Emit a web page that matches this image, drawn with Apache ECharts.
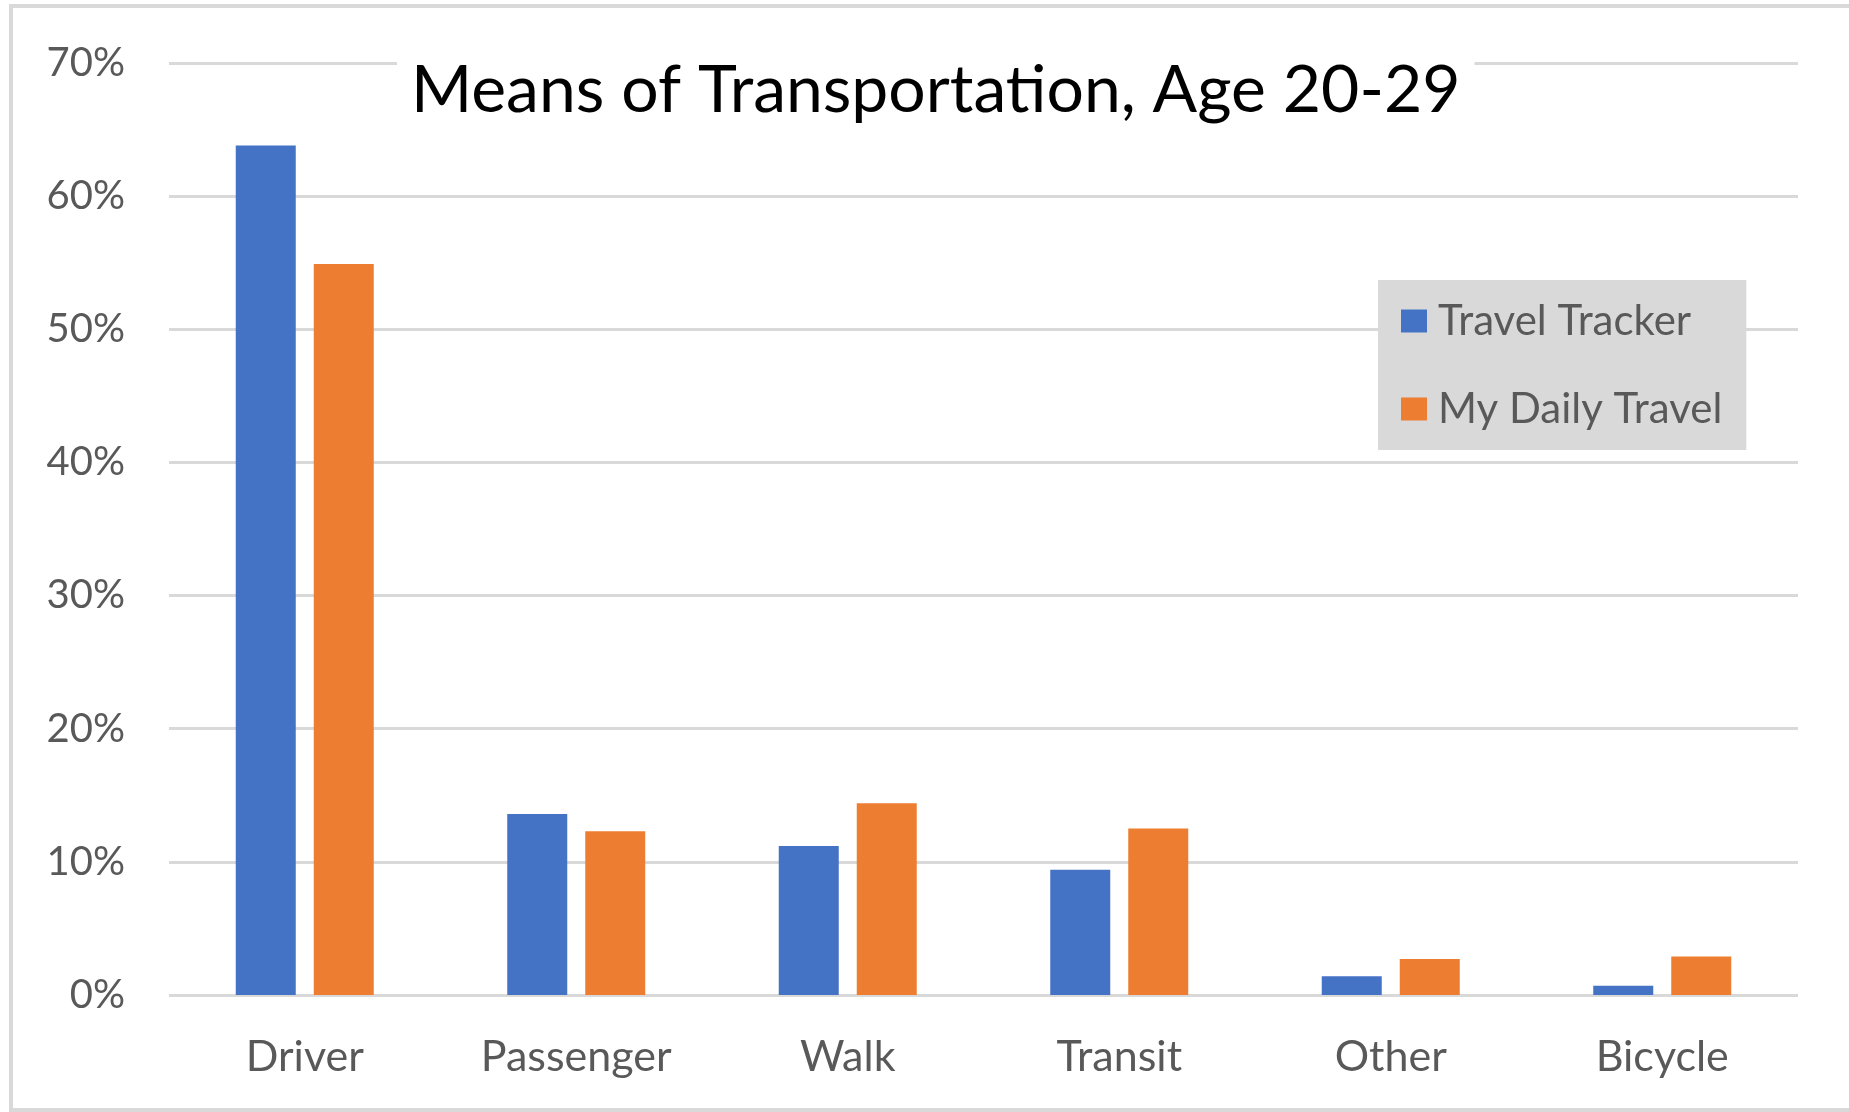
<!DOCTYPE html>
<html>
<head>
<meta charset="utf-8">
<title>Means of Transportation, Age 20-29</title>
<script src="https://cdn.jsdelivr.net/npm/echarts@6/dist/echarts.min.js"></script>
<style>
  html, body { margin: 0; padding: 0; background: #fff; }
  #chart { width: 1849px; height: 1112px; }
</style>
</head>
<body>
<div id="chart"></div>
<script>
// values, in percent
const categories = ['Driver', 'Passenger', 'Walk', 'Transit', 'Other', 'Bicycle'];
const travelTracker = [63.8, 13.6, 11.2, 9.4, 1.4, 0.7];
const myDailyTravel = [54.9, 12.3, 14.4, 12.5, 2.7, 2.9];
const seriesNames = ['Travel Tracker', 'My Daily Travel'];

const chart = echarts.init(document.getElementById('chart'));

const option = {
  backgroundColor: '#fff',
  textStyle: { fontFamily: 'Lato' },
  title: {
    text: 'Means of Transportation, Age 20-29',
    left: 397,
    top: 52,
    padding: [6, 14, 6, 14],
    backgroundColor: '#fff',
    textStyle: {
      fontFamily: 'Lato',
      fontWeight: 'normal',
      fontSize: 66,
      color: '#000'
    }
  },
  legend: {
    orient: 'vertical',
    left: 1378,
    top: 280,
    padding: [16, 24, 16, 23],
    backgroundColor: '#d9d9d9',
    itemWidth: 26,
    itemHeight: 23,
    itemGap: 38,
    icon: 'rect',
    data: seriesNames,
    textStyle: {
      fontFamily: 'Lato',
      fontSize: 42,
      color: '#595959',
      lineHeight: 50,
      padding: [0, 0, 0, 6]
    }
  },
  grid: {
    left: 169,
    right: 51,
    top: 63,
    bottom: 117
  },
  xAxis: {
    type: 'category',
    data: categories,
    axisLine: { show: false },
    axisTick: { show: false },
    axisLabel: {
      fontFamily: 'Lato',
      fontSize: 43,
      color: '#595959',
      margin: 41
    }
  },
  yAxis: {
    type: 'value',
    min: 0,
    max: 70,
    interval: 10,
    axisLine: { show: false },
    axisTick: { show: false },
    axisLabel: {
      fontFamily: 'Lato',
      fontSize: 40,
      color: '#595959',
      margin: 44,
      formatter: '{value}%'
    },
    splitLine: { lineStyle: { color: '#d9d9d9', width: 3 } }
  },
  series: [
    {
      name: seriesNames[0],
      type: 'bar',
      data: travelTracker,
      barWidth: 60,
      barGap: '30%',
      itemStyle: { color: '#4472c4' }
    },
    {
      name: seriesNames[1],
      type: 'bar',
      data: myDailyTravel,
      barWidth: 60,
      barGap: '30%',
      itemStyle: { color: '#ed7d31' }
    }
  ],
  graphic: [
    {
      type: 'rect',
      shape: { x: 11, y: 6, width: 1860, height: 1104 },
      style: { fill: 'none', stroke: '#d9d9d9', lineWidth: 4 },
      silent: true
    }
  ]
};

chart.setOption(option);
</script>
</body>
</html>
